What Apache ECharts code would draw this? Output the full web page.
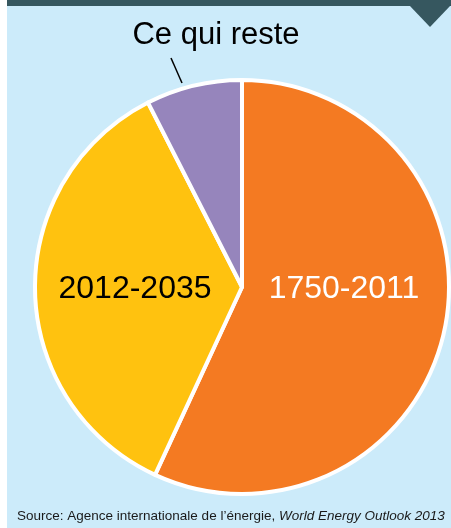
<!DOCTYPE html>
<html>
<head>
<meta charset="utf-8">
<script src="https://cdn.jsdelivr.net/npm/echarts@6/dist/echarts.min.js"></script>
<style>
html,body{margin:0;padding:0;background:#fff;}
#main{width:451px;height:528px;}
</style>
</head>
<body>
<div id="main"></div>
<script>
// Data
const categories = ['1750-2011', '2012-2035', 'Ce qui reste'];
const values = [56.9, 35.6, 7.5];
const colors = ['#F47A22', '#FFC20F', '#9685BC'];
const labelColors = ['#ffffff', '#000000', '#000000'];
const sourceText = 'Source: Agence internationale de l\u2019énergie, ';
const sourceTitle = 'World Energy Outlook 2013';

const FONT = "'Liberation Sans', Arial, sans-serif";

const chart = echarts.init(document.getElementById('main'), null, {renderer: 'canvas'});

const labelPos = [
  {x: 344, y: 289},
  {x: 135, y: 289},
  {x: 216, y: 35}
];
const labelSize = [32, 32, 31];

chart.setOption({
  backgroundColor: '#ffffff',
  animation: false,
  graphic: [
    {type: 'rect', z: -10, shape: {x: 7, y: 0, width: 444, height: 528}, style: {fill: '#CCEBFA'}},
    {type: 'rect', z: -9, shape: {x: 7, y: 0, width: 444, height: 6}, style: {fill: '#36575F'}},
    {type: 'polygon', z: -9, shape: {points: [[409, 5], [430, 27], [451, 5]]}, style: {fill: '#36575F'}}
  ],
  title: {
    left: 17,
    top: 509,
    padding: 0,
    text: '{a|' + sourceText + '}{b|' + sourceTitle + '}',
    textStyle: {
      rich: {
        a: {fontFamily: FONT, fontSize: 13.5, fontWeight: 'normal', color: '#1a1a1a'},
        b: {fontFamily: FONT, fontSize: 13.5, fontWeight: 'normal', fontStyle: 'italic', color: '#1a1a1a'}
      }
    }
  },
  series: [{
    type: 'pie',
    center: [242, 287],
    radius: 207,
    startAngle: 90,
    clockwise: true,
    silent: true,
    avoidLabelOverlap: false,
    itemStyle: {borderColor: '#ffffff', borderWidth: 4},
    label: {
      show: true,
      fontFamily: FONT,
      fontSize: 32,
      overflow: 'none',
      formatter: '{b}'
    },
    labelLine: {show: false},
    labelLayout: function (params) {
      const p = labelPos[params.dataIndex];
      const out = {x: p.x, y: p.y, align: 'center', verticalAlign: 'middle'};
      if (params.dataIndex === 2) {
        out.labelLinePoints = [[182, 83], [176.5, 70.5], [171, 58]];
      }
      return out;
    },
    data: categories.map((c, i) => ({
      name: c,
      value: values[i],
      itemStyle: {color: colors[i]},
      label: {color: labelColors[i], fontSize: labelSize[i], position: i === 2 ? 'outside' : 'inside', overflow: 'none'},
      labelLine: i === 2 ? {show: true, lineStyle: {color: '#000', width: 1.5}} : {show: false}
    }))
  }]
});
</script>
</body>
</html>
